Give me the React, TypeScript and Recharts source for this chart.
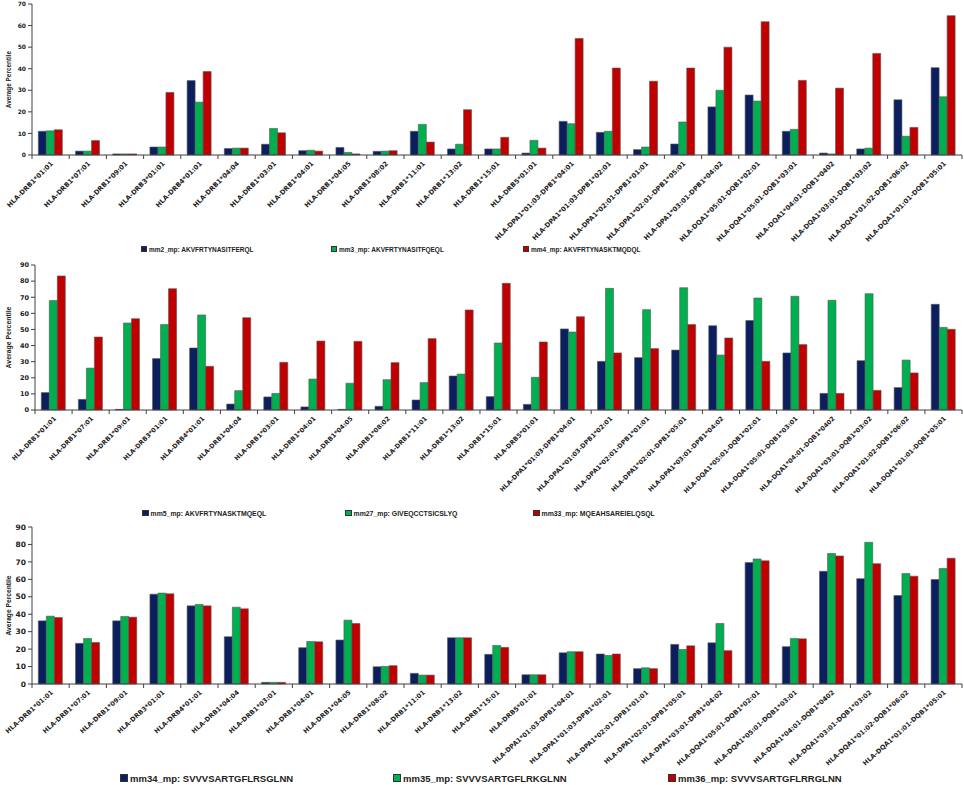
import { BarChart, Bar, XAxis, YAxis, Legend } from "recharts";

const CATEGORIES = [
  "HLA-DRB1*01:01",
  "HLA-DRB1*07:01",
  "HLA-DRB1*09:01",
  "HLA-DRB3*01:01",
  "HLA-DRB4*01:01",
  "HLA-DRB1*04:04",
  "HLA-DRB1*03:01",
  "HLA-DRB1*04:01",
  "HLA-DRB1*04:05",
  "HLA-DRB1*08:02",
  "HLA-DRB1*11:01",
  "HLA-DRB1*13:02",
  "HLA-DRB1*15:01",
  "HLA-DRB5*01:01",
  "HLA-DPA1*01:03-DPB1*04:01",
  "HLA-DPA1*01:03-DPB1*02:01",
  "HLA-DPA1*02:01-DPB1*01:01",
  "HLA-DPA1*02:01-DPB1*05:01",
  "HLA-DPA1*03:01-DPB1*04:02",
  "HLA-DQA1*05:01-DQB1*02:01",
  "HLA-DQA1*05:01-DQB1*03:01",
  "HLA-DQA1*04:01-DQB1*0402",
  "HLA-DQA1*03:01-DQB1*03:02",
  "HLA-DQA1*01:02-DQB1*06:02",
  "HLA-DQA1*01:01-DQB1*05:01",
];

// panel 1
const MM2 = [11, 1.8, 0.5, 3.7, 34.5, 3, 5, 2, 3.5, 1.7, 11, 2.8, 2.8, 0.9, 15.6, 10.5, 2.5, 5.1, 22.3, 27.8, 11, 0.9, 2.8, 25.6, 40.5];
const MM3 = [11.2, 1.8, 0.5, 3.7, 24.5, 3.2, 12.3, 2.2, 1.2, 1.8, 14.2, 5, 2.8, 6.8, 14.5, 11, 3.7, 15.3, 30, 25, 11.9, 0.5, 3.2, 8.7, 27];
const MM4 = [11.7, 6.7, 0.5, 29, 38.7, 3.2, 10.3, 1.8, 0.5, 2, 6, 21, 8.2, 3.2, 54, 40.3, 34.2, 40.3, 50, 61.8, 34.6, 31, 47.1, 12.8, 64.6];

// panel 2
const MM5 = [10.8, 6.6, 0.4, 31.9, 38.5, 3.7, 8.1, 1.9, 0.4, 2.3, 6.2, 21.1, 8.3, 3.5, 50.3, 30.2, 32.5, 37.2, 52.3, 55.5, 35.4, 10.3, 30.6, 13.9, 65.6];
const MM27 = [67.9, 26, 54, 53, 59, 12, 10.3, 19.2, 16.6, 18.8, 17, 22.3, 41.6, 20.3, 48.4, 75.5, 62.3, 75.9, 34.1, 69.5, 70.6, 68.1, 72.2, 31, 51.3];
const MM33 = [83.2, 45.3, 56.7, 75.3, 27.1, 57.3, 29.6, 42.8, 42.6, 29.4, 44.3, 62.1, 78.6, 42.2, 57.9, 35.4, 38.1, 53, 44.7, 30.2, 40.6, 10.3, 12.2, 23, 50.1];

// panel 3
const MM34 = [36.2, 23.3, 36.2, 51.5, 44.8, 27.1, 0.95, 20.8, 25.2, 9.9, 6.1, 26.5, 17, 5.3, 17.9, 17.2, 8.8, 22.7, 23.6, 69.6, 21.4, 64.6, 60.4, 50.7, 59.9];
const MM35 = [38.9, 26.1, 38.7, 52.1, 45.6, 44, 0.95, 24.4, 36.6, 10.1, 5.1, 26.5, 22.1, 5.3, 18.5, 16.4, 9.3, 19.8, 34.7, 71.7, 26.1, 74.8, 81.2, 63.3, 66.2];
const MM36 = [38.1, 23.8, 38.3, 51.7, 44.8, 43.1, 0.95, 24.2, 34.7, 10.5, 5.1, 26.5, 21, 5.3, 18.5, 17.2, 8.8, 21.9, 19.1, 70.6, 25.9, 73.4, 69, 61.8, 72.1];

const NAMES_1 = ["mm2_mp: AKVFRTYNASITFERQL", "mm3_mp: AKVFRTYNASITFQEQL", "mm4_mp: AKVFRTYNASKTMQDQL"];
const NAMES_2 = ["mm5_mp: AKVFRTYNASKTMQEQL", "mm27_mp: GIVEQCCTSICSLYQ", "mm33_mp: MQEAHSAREIELQSQL"];
const NAMES_3 = ["mm34_mp: SVVVSARTGFLRSGLNN", "mm35_mp: SVVVSARTGFLRKGLNN", "mm36_mp: SVVVSARTGFLRRGLNN"];

const TICKS_70 = [0, 10, 20, 30, 40, 50, 60, 70];
const TICKS_90 = [0, 10, 20, 30, 40, 50, 60, 70, 80, 90];

const COLORS = ["#0b1f5f", "#00b050", "#c00000"];
const W = 964;
const RIGHT = 2;

function rows(a: number[], b: number[], c: number[]) {
  return CATEGORIES.map((cat, i) => ({ cat, a: a[i], b: b[i], c: c[i] }));
}

type PanelCfg = {
  top: number;
  height: number;
  mTop: number;
  mBottom: number;
  yWidth: number;
  xHeight: number;
  max: number;
  ticks: number[];
  tickFs: number;
  catFs: number;
  catAngle: number;
  labelFs: number;
  legendFs: number;
  legendBox: number;
  legendX: number[];
  names: string[];
  data: { cat: string; a: number; b: number; c: number }[];
};

function CatTick(props: any) {
  const { x, y, payload, index, half, fs, angle } = props;
  const tx = x + 3;
  const ty = y + 9;
  return (
    <g>
      <line x1={x - half} x2={x - half} y1={y} y2={y + 4} stroke="#404040" strokeWidth={1} />
      {index === CATEGORIES.length - 1 && (
        <line x1={x + half} x2={x + half} y1={y} y2={y + 4} stroke="#404040" strokeWidth={1} />
      )}
      <text
        x={tx}
        y={ty}
        transform={`rotate(-${angle} ${tx} ${ty})`}
        textAnchor="end"
        fontFamily="DejaVu Sans"
        fontWeight="bold"
        fontSize={fs}
        fill="#222"
      >
        {payload.value}
      </text>
    </g>
  );
}

function YLabel(props: any) {
  const { viewBox, fs } = props;
  const cx = 11;
  const cy = viewBox.y + viewBox.height / 2;
  return (
    <text
      x={cx}
      y={cy}
      transform={`rotate(-90 ${cx} ${cy})`}
      textAnchor="middle"
      fontFamily="Liberation Sans"
      fontWeight="bold"
      fontSize={fs}
      fill="#222"
    >
      Average Percentile
    </text>
  );
}

function LegendRow({ cfg }: { cfg: PanelCfg }) {
  return (
    <div style={{ position: "relative", height: 14, width: W }}>
      {cfg.names.map((n, i) => (
        <div
          key={n}
          style={{
            position: "absolute",
            left: cfg.legendX[i],
            top: 0,
            height: 14,
            display: "flex",
            alignItems: "center",
            whiteSpace: "nowrap",
            fontFamily: "Liberation Sans",
            fontWeight: "bold",
            fontSize: cfg.legendFs,
            color: "#222",
          }}
        >
          <span
            style={{
              display: "inline-block",
              width: cfg.legendBox,
              height: cfg.legendBox,
              background: COLORS[i],
              border: "0.5px solid #333",
              marginRight: 2,
            }}
          />
          {n}
        </div>
      ))}
    </div>
  );
}

function Panel({ cfg }: { cfg: PanelCfg }) {
  const half = (W - RIGHT - cfg.yWidth) / CATEGORIES.length / 2;
  return (
    <div style={{ position: "absolute", left: 0, top: cfg.top, width: W, height: cfg.height }}>
      <BarChart
        width={W}
        height={cfg.height}
        data={cfg.data}
        margin={{ top: cfg.mTop, right: RIGHT, left: 0, bottom: cfg.mBottom }}
        barCategoryGap="17%"
        barGap={0}
      >
        <XAxis
          dataKey="cat"
          interval={0}
          height={cfg.xHeight}
          tickLine={false}
          tickSize={0}
          tickMargin={0}
          axisLine={{ stroke: "#404040", strokeWidth: 1 }}
          tick={(p: any) => <CatTick {...p} half={half} fs={cfg.catFs} angle={cfg.catAngle} />}
        />
        <YAxis
          width={cfg.yWidth}
          domain={[0, cfg.max]}
          ticks={cfg.ticks}
          interval={0}
          tickSize={4}
          tickMargin={2}
          axisLine={{ stroke: "#404040", strokeWidth: 1 }}
          tickLine={{ stroke: "#404040", strokeWidth: 1 }}
          tick={{
            fontFamily: "DejaVu Sans",
            fontWeight: "bold",
            fontSize: cfg.tickFs,
            fill: "#222",
          }}
          label={(p: any) => <YLabel {...p} fs={cfg.labelFs} />}
        />
        <Legend verticalAlign="bottom" content={() => <LegendRow cfg={cfg} />} />
        <Bar dataKey="a" fill={COLORS[0]} stroke="#555" strokeWidth={0.6} isAnimationActive={false} />
        <Bar dataKey="b" fill={COLORS[1]} stroke="#555" strokeWidth={0.6} isAnimationActive={false} />
        <Bar dataKey="c" fill={COLORS[2]} stroke="#555" strokeWidth={0.6} isAnimationActive={false} />
      </BarChart>
    </div>
  );
}

const PANELS: PanelCfg[] = [
  {
    top: 0,
    height: 258,
    mTop: 4,
    mBottom: 2,
    yWidth: 32,
    xHeight: 87,
    max: 70,
    ticks: TICKS_70,
    tickFs: 6,
    catFs: 6.6,
    catAngle: 45,
    labelFs: 6.4,
    legendFs: 6.5,
    legendBox: 4,
    legendX: [141, 331, 523],
    names: NAMES_1,
    data: rows(MM2, MM3, MM4),
  },
  {
    top: 258,
    height: 262,
    mTop: 7,
    mBottom: 0,
    yWidth: 35,
    xHeight: 96,
    max: 90,
    ticks: TICKS_90,
    tickFs: 6.5,
    catFs: 6.3,
    catAngle: 45,
    labelFs: 6.9,
    legendFs: 6.9,
    legendBox: 4.5,
    legendX: [142, 345, 533],
    names: NAMES_2,
    data: rows(MM5, MM27, MM33),
  },
  {
    top: 520,
    height: 265,
    mTop: 7,
    mBottom: 0,
    yWidth: 32,
    xHeight: 87,
    max: 90,
    ticks: TICKS_90,
    tickFs: 7.5,
    catFs: 6.5,
    catAngle: 42,
    labelFs: 6.7,
    legendFs: 9.5,
    legendBox: 6,
    legendX: [120, 393, 668],
    names: NAMES_3,
    data: rows(MM34, MM35, MM36),
  },
];

export default function App() {
  return (
    <div style={{ position: "absolute", left: 0, top: 0, width: W, height: 785, background: "#fff" }}>
      {PANELS.map((cfg, i) => (
        <Panel key={i} cfg={cfg} />
      ))}
    </div>
  );
}
